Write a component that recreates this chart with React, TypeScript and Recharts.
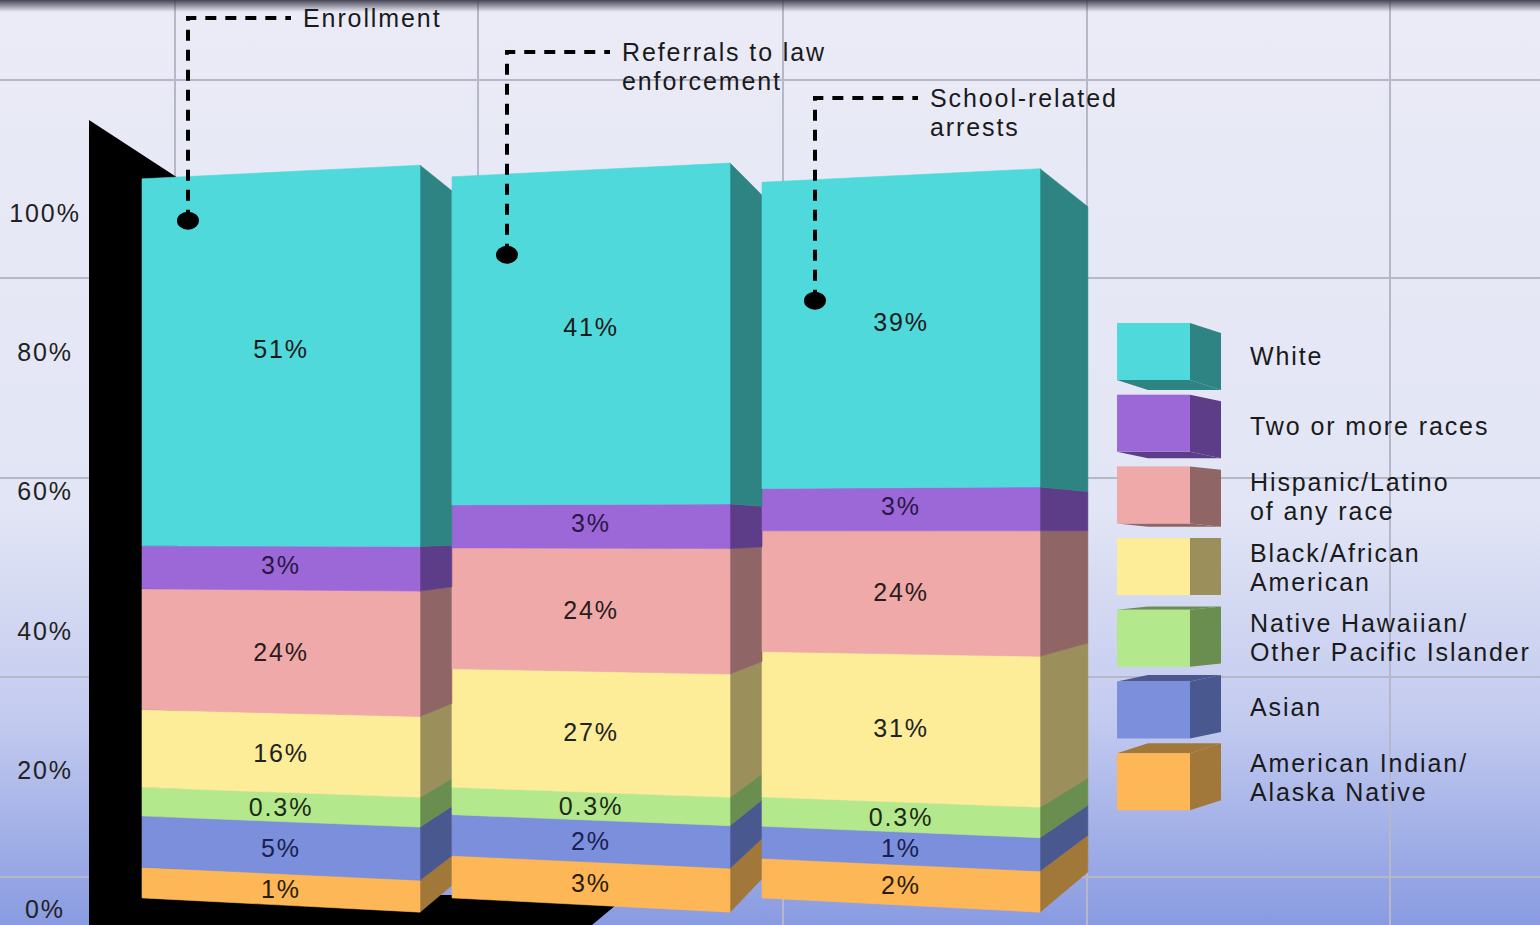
import React from 'react';
import { BarChart, Bar, XAxis, YAxis, LabelList, ReferenceDot } from 'recharts';

const categories = ['Enrollment', 'Referrals to law enforcement', 'School-related arrests'];

// groups from the bottom of the stack to the top
const raceGroups = [
  'American Indian/Alaska Native',
  'Asian',
  'Native Hawaiian/Other Pacific Islander',
  'Black/African American',
  'Hispanic/Latino of any race',
  'Two or more races',
  'White',
];
const legendLines = [
  ['American Indian/', 'Alaska Native'],
  ['Asian'],
  ['Native Hawaiian/', 'Other Pacific Islander'],
  ['Black/African', 'American'],
  ['Hispanic/Latino', 'of any race'],
  ['Two or more races'],
  ['White'],
];

// printed shares
const amIndianLabels = ['1%', '3%', '2%'];
const asianLabels = ['5%', '2%', '1%'];
const hawaiianLabels = ['0.3%', '0.3%', '0.3%'];
const blackLabels = ['16%', '27%', '31%'];
const hispanicLabels = ['24%', '24%', '24%'];
const twoRacesLabels = ['3%', '3%', '3%'];
const whiteLabels = ['51%', '41%', '39%'];

// block heights as drawn in the graphic (axis % units, not to scale with the labels)
const amIndianHeights = [4.5, 6.2, 5.8];
const asianHeights = [7.5, 6.0, 4.7];
const hawaiianHeights = [4.2, 4.0, 4.3];
const blackHeights = [11.4, 17.4, 21.3];
const hispanicHeights = [17.7, 17.7, 17.7];
const twoRacesHeights = [6.3, 6.3, 6.2];
const whiteHeights = [53.8, 48.1, 44.9];

const yTicks = [0, 20, 40, 60, 80, 100];

// callout dots (axis units) and their text
const calloutValues = [98.4, 93.5, 86.9];
const calloutText = [['Enrollment'], ['Referrals to law', 'enforcement'], ['School-related', 'arrests']];

const FONT = "'Liberation Sans', Arial, sans-serif";
const LS = 1.9;
const W = 1540;
const H = 925;

const series = [
  { key: 'amIndian', heights: amIndianHeights, labels: amIndianLabels, front: '#fdb757', side: '#a2773a', ink: '#2a1c0a', lift: 0 },
  { key: 'asian', heights: asianHeights, labels: asianLabels, front: '#7b8fdc', side: '#4a5890', ink: '#1a2050', lift: 0 },
  { key: 'hawaiian', heights: hawaiianHeights, labels: hawaiianLabels, front: '#b3e88c', side: '#6a8e50', ink: '#1c2a14', lift: 0 },
  { key: 'black', heights: blackHeights, labels: blackLabels, front: '#fdec98', side: '#9b8f5b', ink: '#222', lift: 0 },
  { key: 'hispanic', heights: hispanicHeights, labels: hispanicLabels, front: '#f0a9a9', side: '#8f6565', ink: '#2a1c1c', lift: 0 },
  { key: 'twoRaces', heights: twoRacesHeights, labels: twoRacesLabels, front: '#9c68d8', side: '#5e3d88', ink: '#2a1745', lift: -3 },
  { key: 'white', heights: whiteHeights, labels: whiteLabels, front: '#4fd9db', side: '#2e8483', ink: '#1a1a1a', lift: -10 },
];

const data = categories.map((name, i) => {
  const row: any = { name };
  series.forEach((s) => {
    row[s.key] = s.heights[i];
    row[s.key + 'Label'] = s.labels[i];
  });
  return row;
});

// perspective helpers
const YC = 530;
const persp = (y: number, s: number) => YC + (y - YC) * s;

const make3D = (front: string, side: string) => (props: any) => {
  const { x, y, width, height, index } = props;
  if (width == null || height == null || height <= 0) return <g />;
  const top = y;
  const bot = y + height;
  const x1 = x + width;
  const natural = 21 + 0.0258 * x1;
  const depth = index === categories.length - 1 ? natural : Math.min(natural, 32);
  const sL = 0.981;
  const sR = 1.019;
  const sS = sR * (1 - 0.0022 * natural);
  const frontPts = `${x},${persp(top, sL)} ${x1},${persp(top, sR)} ${x1},${persp(bot, sR)} ${x},${persp(bot, sL)}`;
  const sidePts = `${x1},${persp(top, sR)} ${x1 + depth},${persp(top, sS)} ${x1 + depth},${persp(bot, sS)} ${x1},${persp(bot, sR)}`;
  return (
    <g>
      <polygon points={sidePts} fill={side} stroke={side} strokeWidth={0.6} />
      <polygon points={frontPts} fill={front} stroke={front} strokeWidth={0.6} />
    </g>
  );
};

const segLabel = (ink: string, lift: number) => (p: any) => {
  const vb = p.viewBox || p;
  if (vb == null || vb.x == null) return null;
  return (
    <text
      x={vb.x + vb.width / 2}
      y={vb.y + vb.height / 2 + lift}
      dy="0.36em"
      textAnchor="middle"
      fill={ink}
      fontSize={25}
      fontFamily={FONT}
      letterSpacing={LS}
    >
      {p.value}
    </text>
  );
};

const calloutShift = [-93, -84, -86];
const calloutTop = [18, 52, 98];

const Callout = ({ cx, cy, i }: any) => {
  if (cx == null || cy == null) return <g />;
  const x = cx + calloutShift[i];
  const topY = calloutTop[i];
  return (
    <g>
      <path
        d={`M${x},${cy} L${x},${topY} L${x + 103},${topY}`}
        fill="none"
        stroke="#000"
        strokeWidth={4}
        strokeDasharray="11 9"
      />
      <ellipse cx={x} cy={cy} rx={11} ry={9} fill="#000" />
      {calloutText[i].map((t, j) => (
        <text key={j} x={x + 115} y={topY + 9 + j * 29} fill="#1a1a1a" fontSize={25} fontFamily={FONT} letterSpacing={LS}>
          {t}
        </text>
      ))}
    </g>
  );
};

const LegendBoxes = () => {
  const rows = series.slice().reverse();
  const lines = legendLines.slice().reverse();
  return (
    <svg width={430} height={520} style={{ position: 'absolute', left: 1110, top: 315, overflow: 'visible' }}>
      {rows.map((s, i) => {
        const top = 8 + i * 71.7;
        const bot = top + 57;
        const x0 = 7;
        const x1 = 80;
        const w = 31;
        const d = (3 - i) * 3.3;
        const c = (top + bot) / 2 + (3 - i) * 1.5;
        const ls = lines[i];
        return (
          <g key={s.key}>
            {d > 0 && (
              <polygon points={`${x0},${bot} ${x1},${bot} ${x1 + w},${bot + d} ${x0 + w},${bot + d}`} fill={s.side} />
            )}
            {d < 0 && (
              <polygon points={`${x0},${top} ${x1},${top} ${x1 + w},${top + d} ${x0 + w},${top + d}`} fill={s.side} />
            )}
            <polygon points={`${x1},${top} ${x1 + w},${top + d} ${x1 + w},${bot + d} ${x1},${bot}`} fill={s.side} />
            <rect x={x0} y={top} width={x1 - x0} height={bot - top} fill={s.front} />
            {ls.map((t, j) => (
              <text
                key={j}
                x={140}
                y={c + 9 + (ls.length === 1 ? 0 : j === 0 ? -14 : 15)}
                fill="#1a1a1a"
                fontSize={25}
                fontFamily={FONT}
                letterSpacing={LS}
              >
                {t}
              </text>
            ))}
          </g>
        );
      })}
    </svg>
  );
};

const gridX = [175, 478, 783, 1087, 1390];
const gridY = [80, 278, 478, 677, 877];

const Backdrop = () => (
  <svg width={W} height={H} style={{ position: 'absolute', left: 0, top: 0 }}>
    <defs>
      <linearGradient id="bg" x1="0" y1="0" x2="0" y2="1">
        <stop offset="0" stopColor="#eaebf6" />
        <stop offset="0.55" stopColor="#e2e5f5" />
        <stop offset="0.78" stopColor="#c2caef" />
        <stop offset="1" stopColor="#899be1" />
      </linearGradient>
      <linearGradient id="shade" x1="0" y1="0" x2="0" y2="1">
        <stop offset="0" stopColor="#3e3c4e" stopOpacity={0.95} />
        <stop offset="1" stopColor="#3e3c4e" stopOpacity={0} />
      </linearGradient>
    </defs>
    <rect x={0} y={0} width={W} height={H} fill="url(#bg)" />
    {gridX.map((gx) => (
      <line key={gx} x1={gx} y1={0} x2={gx} y2={H} stroke="#b6b7c8" strokeWidth={2} />
    ))}
    {gridY.map((gy) => (
      <line key={gy} x1={0} y1={gy} x2={W} y2={gy} stroke="#b6b7c8" strokeWidth={2} />
    ))}
    <rect x={0} y={0} width={W} height={12} fill="url(#shade)" />
    {/* black wall and floor */}
    <polygon points="89,120 178,178 178,895 628,895 592,925 89,925" fill="#000" />
  </svg>
);

export default function App() {
  return (
    <div style={{ position: 'absolute', left: 0, top: 0, width: W, height: H, overflow: 'hidden' }}>
      <Backdrop />
      <div style={{ position: 'absolute', left: 0, top: 0 }}>
        <BarChart width={W} height={H} data={data} margin={{ top: 140, right: 484, bottom: 20, left: 10 }}>
          <XAxis dataKey="name" hide />
          <YAxis
            width={116}
            domain={[0, 110]}
            ticks={yTicks}
            axisLine={false}
            tickLine={false}
            tick={(p: any) => (
              <text x={45} y={p.y + 4} dy="0.35em" textAnchor="middle" fill="#222" fontSize={25} fontFamily={FONT} letterSpacing={LS}>
                {p.payload.value}%
              </text>
            )}
          />
          {series.map((s, i) => (
            <Bar
              key={s.key}
              dataKey={s.key}
              name={raceGroups[i]}
              stackId="race"
              barSize={278}
              fill={s.front}
              shape={make3D(s.front, s.side)}
              isAnimationActive={false}
            >
              <LabelList dataKey={s.key + 'Label'} position="center" content={segLabel(s.ink, s.lift)} />
            </Bar>
          ))}
          {categories.map((c, i) => (
            <ReferenceDot
              key={c}
              x={c}
              y={calloutValues[i]}
              r={10}
              ifOverflow="visible"
              shape={(p: any) => <Callout {...p} i={i} />}
            />
          ))}
        </BarChart>
      </div>
      <LegendBoxes />
    </div>
  );
}
